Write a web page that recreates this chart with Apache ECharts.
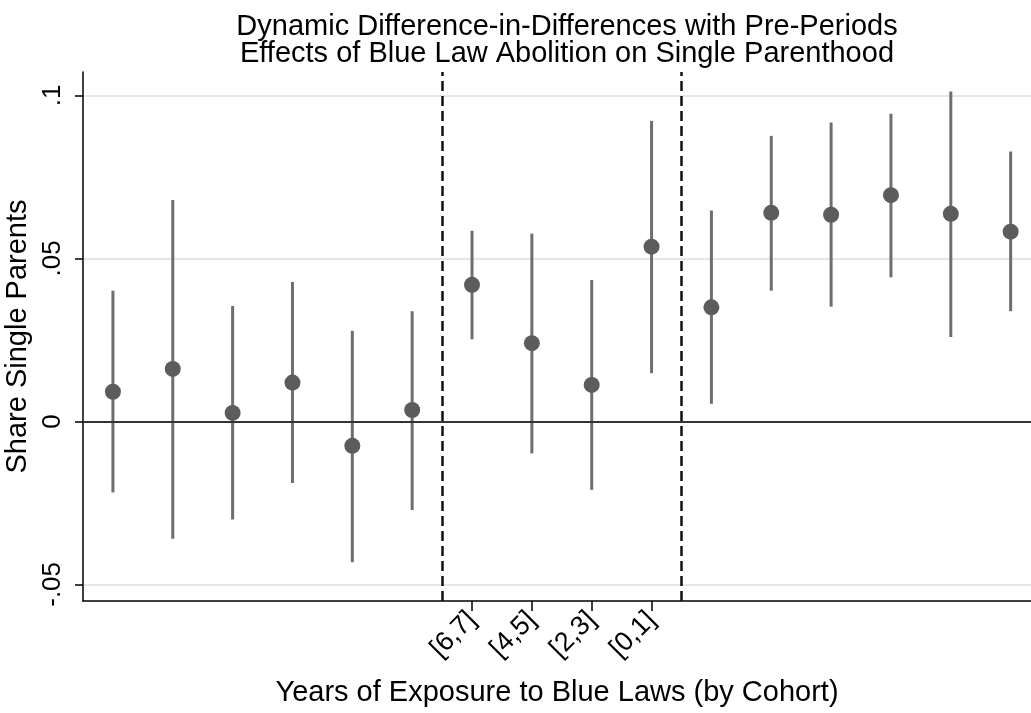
<!DOCTYPE html>
<html>
<head>
<meta charset="utf-8">
<script src="https://cdn.jsdelivr.net/npm/echarts@6/dist/echarts.min.js"></script>
<style>
  html, body { margin: 0; padding: 0; background: #fff; }
  #main { width: 1031px; height: 713px; }
</style>
</head>
<body>
<div id="main"></div>
<script>
var chartDom = document.getElementById('main');
var myChart = echarts.init(chartDom);
var option;

// event-time position (1..16), point estimates and 95% CI
var positions = [1, 2, 3, 4, 5, 6, 7, 8, 9, 10, 11, 12, 13, 14, 15, 16];
var estimates = [0.0091, 0.0161, 0.0026, 0.0119, -0.0075, 0.0035, 0.0419, 0.0240, 0.0112, 0.0536, 0.0350, 0.0640, 0.0634, 0.0694, 0.0637, 0.0582];
var ciLow = [-0.0218, -0.0360, -0.0301, -0.0189, -0.0432, -0.0272, 0.0252, -0.0098, -0.0210, 0.0148, 0.0054, 0.0401, 0.0352, 0.0442, 0.0259, 0.0338];
var ciHigh = [0.0401, 0.0679, 0.0354, 0.0428, 0.0278, 0.0338, 0.0585, 0.0576, 0.0434, 0.0922, 0.0647, 0.0876, 0.0917, 0.0944, 0.1012, 0.0828];

var xTickValues = [7, 8, 9, 10];
var xTickLabels = ['[6,7]', '[4,5]', '[2,3]', '[0,1]'];
var yTickValues = [-0.05, 0, 0.05, 0.1];
var cutoffs = [6.5, 10.5];

var font = 'Arial, "Liberation Sans", sans-serif';

var ciData = positions.map(function (x, i) { return [x, ciLow[i], ciHigh[i]]; });
var pointData = positions.map(function (x, i) { return [x, estimates[i]]; });

option = {
  backgroundColor: '#fff',
  animation: false,
  title: {
    text: 'Dynamic Difference-in-Differences with Pre-Periods\nEffects of Blue Law Abolition on Single Parenthood',
    left: 562,
    top: 8,
    textAlign: 'center',
    textStyle: { fontFamily: font, fontSize: 29, fontWeight: 'normal', color: '#000', lineHeight: 27 }
  },
  grid: { left: 83, right: 0, top: 72, bottom: 112, containLabel: false, outerBoundsMode: 'none' },
  xAxis: {
    type: 'value',
    min: 0.5,
    max: 16.34,
    name: 'Years of Exposure to Blue Laws (by Cohort)',
    nameLocation: 'middle',
    nameGap: 77,
    nameTextStyle: { fontFamily: font, fontSize: 29, color: '#000' },
    axisLine: { onZero: false, lineStyle: { color: '#000', width: 1.5 } },
    axisTick: { customValues: xTickValues, length: 10, lineStyle: { color: '#000', width: 1.5 } },
    axisLabel: {
      customValues: xTickValues,
      rotate: 45,
      margin: 15,
      fontFamily: font,
      fontSize: 27,
      color: '#000',
      formatter: function (v) {
        var k = xTickValues.indexOf(Math.round(v));
        return k >= 0 ? xTickLabels[k] : '';
      }
    },
    splitLine: { show: false }
  },
  yAxis: {
    type: 'value',
    min: -0.0551,
    max: 0.1072,
    name: 'Share Single Parents',
    nameLocation: 'middle',
    nameGap: 47,
    nameTextStyle: { fontFamily: font, fontSize: 29, color: '#000' },
    axisLine: { show: true, lineStyle: { color: '#000', width: 1.5 } },
    axisTick: { show: true, customValues: yTickValues, length: 8, lineStyle: { color: '#000', width: 1.5 } },
    axisLabel: {
      customValues: yTickValues,
      rotate: 90,
      margin: 17,
      fontFamily: font,
      fontSize: 26,
      color: '#000',
      formatter: function (v) {
        if (Math.abs(v) < 1e-9) return '0';
        return String(+v.toFixed(3)).replace('0.', '.');
      }
    },
    splitLine: { show: true, lineStyle: { color: '#e6e6e6', width: 2 } }
  },
  series: [
    {
      type: 'custom',
      data: ciData,
      renderItem: function (params, api) {
        var lo = api.coord([api.value(0), api.value(1)]);
        var hi = api.coord([api.value(0), api.value(2)]);
        return {
          type: 'line',
          shape: { x1: lo[0], y1: lo[1], x2: hi[0], y2: hi[1] },
          style: { stroke: '#6e6e6e', lineWidth: 3 }
        };
      },
      z: 3
    },
    {
      type: 'scatter',
      data: pointData,
      symbol: 'circle',
      symbolSize: 16,
      itemStyle: { color: '#5c5c5c', opacity: 1 },
      z: 4,
      markLine: {
        silent: true,
        symbol: 'none',
        label: { show: false },
        data: [
          { yAxis: 0, lineStyle: { color: '#333', width: 2, type: 'solid' } },
          { xAxis: cutoffs[0], lineStyle: { color: '#111', width: 2.5, type: [10, 5] } },
          { xAxis: cutoffs[1], lineStyle: { color: '#111', width: 2.5, type: [10, 5] } }
        ]
      }
    }
  ]
};

option && myChart.setOption(option);
</script>
</body>
</html>
